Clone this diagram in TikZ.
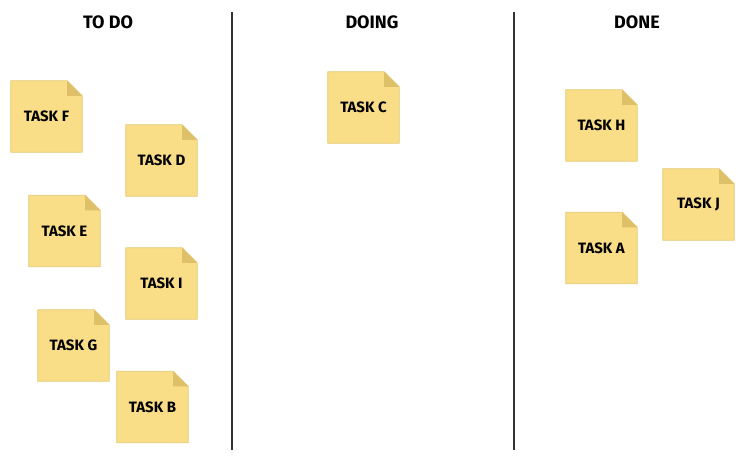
\documentclass[tikz,border=0pt]{standalone}
\usepackage{fontspec}
\setmainfont{Fira Sans}
\usetikzlibrary{backgrounds}

\definecolor{notefill}{RGB}{249,221,135}
\definecolor{noteedge}{RGB}{226,199,112}
\definecolor{notefold}{RGB}{222,192,104}
\definecolor{laneline}{RGB}{50,50,50}

\tikzset{
  note/.style={minimum width=71pt, minimum height=71pt, inner sep=0pt,
    font=\bfseries\fontsize{15}{17}\selectfont},
  lanetitle/.style={inner sep=0pt, font=\bfseries\fontsize{18}{20}\selectfont},
  lane/.style={draw=laneline, line width=1.2pt}
}

\begin{document}
\begin{tikzpicture}[x=1pt, y=-1pt]
\useasboundingbox (0,0) rectangle (750,473);
% column titles
\node[lanetitle] (todo) at (108,22) {TO DO};
\node[lanetitle] (doing) at (372,22) {DOING};
\node[lanetitle] (done) at (637,22) {DONE};
% separators
\coordinate (sepA top) at (232,12);
\coordinate (sepA bot) at (232,450);
\coordinate (sepB top) at (514,12);
\coordinate (sepB bot) at (514,450);
\draw[lane] (sepA top) -- (sepA bot);
\draw[lane] (sepB top) -- (sepB bot);
% to do
\node[note] (taskF) at (46.5,116.5) {TASK F};
\node[note] (taskD) at (161.5,160.5) {TASK D};
\node[note] (taskE) at (64.5,231) {TASK E};
\node[note] (taskI) at (161.5,283.5) {TASK I};
\node[note] (taskG) at (73.5,345.5) {TASK G};
\node[note] (taskB) at (152.5,407) {TASK B};
% doing
\node[note] (taskC) at (363.5,107.5) {TASK C};
% done
\node[note] (taskH) at (601.5,125.5) {TASK H};
\node[note] (taskJ) at (698.5,204.5) {TASK J};
\node[note] (taskA) at (601.5,248) {TASK A};
% paper and folded corner
\begin{scope}[on background layer]
\foreach \n in {taskF,taskD,taskE,taskI,taskG,taskB,taskC,taskH,taskJ,taskA}{
  \filldraw[fill=notefill, draw=noteedge, line width=0.8pt, line join=round]
    (\n.south west) -- (\n.north west) -- ([xshift=-15pt]\n.north east)
    -- ([yshift=-15pt]\n.north east) -- (\n.south east) -- cycle;
  \fill[notefold] ([xshift=-15pt]\n.north east) -- ([xshift=-15pt,yshift=-15pt]\n.north east)
    -- ([yshift=-15pt]\n.north east) -- cycle;
}
\end{scope}
\end{tikzpicture}
\end{document}
